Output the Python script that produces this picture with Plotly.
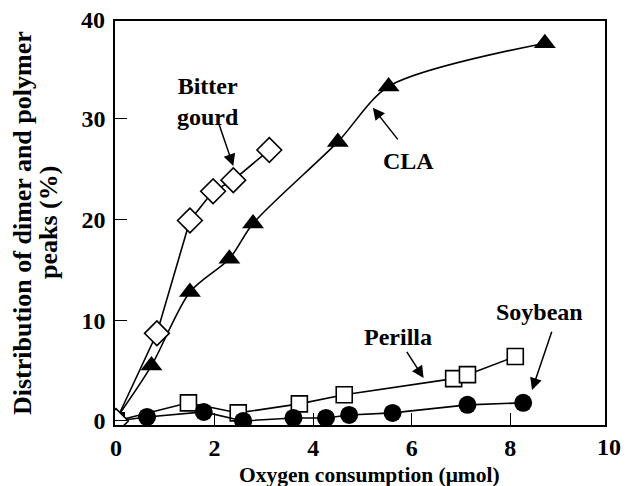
import plotly.graph_objects as go

# Data
cla_x = [0, 0.72, 1.5, 2.3, 2.78, 4.5, 5.53, 8.7]
cla_y = [0.2, 5.5, 12.8, 16.1, 19.6, 27.7, 33.2, 37.5]

bitter_x = [0, 0.83, 1.5, 1.97, 2.38, 3.11]
bitter_y = [0, 8.7, 19.9, 22.8, 23.9, 26.9]

perilla_x = [0, 1.47, 2.48, 3.72, 4.63, 6.85, 7.13, 8.1]
perilla_y = [0, 1.8, 0.8, 1.7, 2.6, 4.2, 4.6, 6.4]

soy_x = [0, 0.63, 1.78, 2.58, 3.6, 4.26, 4.73, 5.61, 7.13, 8.26]
soy_y = [0, 0.4, 0.9, 0.0, 0.3, 0.3, 0.6, 0.8, 1.6, 1.8]

x_ticks = [0, 2, 4, 6, 8, 10]
y_ticks = [0, 10, 20, 30, 40]

x_title = "Oxygen consumption (μmol)"
y_title_lines = ["Distribution of dimer and polymer", "peaks (%)"]

X_RANGE = [-0.02, 9.92]
Y_RANGE = [-0.4, 39.7]

FONT = "Liberation Serif"
fig = go.Figure()

fig.add_trace(go.Scatter(
    x=cla_x, y=cla_y, mode="lines+markers",
    line=dict(color="black", width=1.6, shape="spline", smoothing=0.8),
    marker=dict(symbol="triangle-up", size=19, color="black"),
))
fig.add_trace(go.Scatter(
    x=perilla_x, y=perilla_y, mode="lines+markers",
    line=dict(color="black", width=1.6),
    marker=dict(symbol="square", size=16, color="white", line=dict(color="black", width=1.6)),
))
fig.add_trace(go.Scatter(
    x=soy_x, y=soy_y, mode="lines+markers",
    line=dict(color="black", width=1.6),
    marker=dict(symbol=["square"] + ["circle"] * (len(soy_x) - 1), size=18, color="black"),
))
fig.add_trace(go.Scatter(
    x=bitter_x, y=bitter_y, mode="lines+markers",
    line=dict(color="black", width=1.6),
    marker=dict(symbol="diamond", size=19, color="white", line=dict(color="black", width=1.6)),
))

labels = [
    ("Bitter<br>gourd", 1.86, 31.7),
    ("CLA", 5.94, 25.8),
    ("Perilla", 5.72, 8.3),
    ("Soybean", 8.6, 10.8),
]
for t, x, y in labels:
    fig.add_annotation(x=x, y=y, text=t, showarrow=False,
                       font=dict(family=FONT, size=24, color="black", weight="bold"))

arrows = [
    (2.08, 29.6, 2.38, 25.3),
    (5.74, 27.8, 5.21, 31.1),
    (5.88, 7.0, 6.24, 4.26),
    (8.85, 9.0, 8.44, 3.07),
]
for tx, ty, hx, hy in arrows:
    fig.add_annotation(x=hx, y=hy, ax=tx, ay=ty, axref="x", ayref="y",
                       text="", showarrow=True, arrowhead=2, arrowsize=1.6,
                       arrowwidth=1.5, arrowcolor="black")

tickfont = dict(family=FONT, size=24, color="black", weight="bold")
axis_common = dict(
    showline=True, linecolor="black", linewidth=1.6, mirror=True,
    showgrid=False, zeroline=False, ticks="inside", ticklen=12,
    tickcolor="black", tickwidth=1.4, tickfont=tickfont,
)
fig.update_xaxes(range=X_RANGE, tickvals=x_ticks[:-1], **axis_common)
fig.update_yaxes(range=Y_RANGE, tickvals=y_ticks[:-1], ticklabelstandoff=3, **axis_common)

# end tick labels that sit just outside the frame in the reference
fig.add_annotation(x=(x_ticks[-1] - X_RANGE[0]) / (X_RANGE[1] - X_RANGE[0]), xref="paper",
                   xanchor="center", y=0, yref="paper", yanchor="top", yshift=-7,
                   text=str(x_ticks[-1]), showarrow=False, font=tickfont)
fig.add_annotation(x=0, xref="paper", xanchor="right", xshift=-9,
                   y=(y_ticks[-1] - Y_RANGE[0]) / (Y_RANGE[1] - Y_RANGE[0]), yref="paper",
                   yanchor="middle", yshift=-2, borderpad=0, text=str(y_ticks[-1]),
                   showarrow=False, font=tickfont)

# axis titles
fig.add_annotation(x=0.52, xref="paper", xanchor="center", y=0, yref="paper",
                   yanchor="middle", yshift=-50,
                   text=x_title, showarrow=False,
                   font=dict(family=FONT, size=21.5, color="black", weight="bold"))
for line, shift in zip(y_title_lines, [-93, -67]):
    fig.add_annotation(x=0, xref="paper", xanchor="center", xshift=shift,
                       y=0.5, yref="paper", yanchor="middle", textangle=-90,
                       text=line, showarrow=False,
                       font=dict(family=FONT, size=26, color="black", weight="bold"))

fig.update_layout(
    width=639, height=486,
    margin=dict(l=107, r=42, t=13, b=69),
    paper_bgcolor="white", plot_bgcolor="white",
    showlegend=False,
)
fig.write_html("out.html")
